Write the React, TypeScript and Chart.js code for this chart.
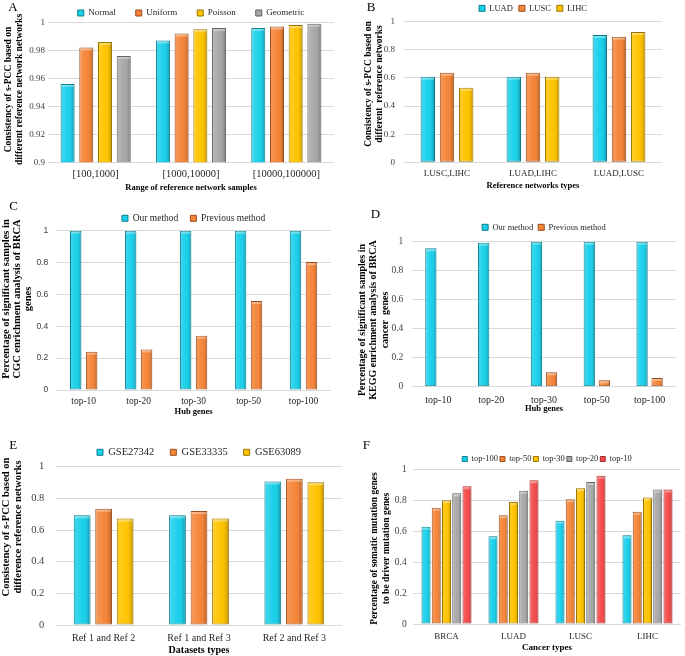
import React, { useEffect, useRef } from 'react';
import { Chart, registerables } from 'chart.js';

Chart.register(...registerables);

const SERIF = "'Liberation Serif', 'Times New Roman', serif";
const SANS = "'Liberation Sans', Arial, sans-serif";

// ---------- Panel A ----------
const aCategories = ['[100,1000]', '[1000,10000]', '[10000,100000]'];
const aNormal = [0.956, 0.987, 0.996];
const aUniform = [0.982, 0.992, 0.997];
const aPoisson = [0.986, 0.995, 0.998];
const aGeometric = [0.976, 0.996, 0.999];
const aAxis = { min: 0.9, max: 1, step: 0.02 };

// ---------- Panel B ----------
const bCategories = ['LUSC,LIHC', 'LUAD,LIHC', 'LUAD,LUSC'];
const bLUAD = [0.609, 0.609, 0.905];
const bLUSC = [0.637, 0.637, 0.893];
const bLIHC = [0.531, 0.609, 0.927];

// ---------- Panel C ----------
const cCategories = ['top-10', 'top-20', 'top-30', 'top-50', 'top-100'];
const cOur = [1, 1, 1, 1, 1];
const cPrevious = [0.24, 0.255, 0.341, 0.559, 0.803];

// ---------- Panel D ----------
const dCategories = ['top-10', 'top-20', 'top-30', 'top-50', 'top-100'];
const dOur = [0.954, 0.993, 1, 1, 1];
const dPrevious = [0, 0, 0.099, 0.044, 0.06];

// ---------- Panel E ----------
const eCategories = ['Ref 1 and Ref 2', 'Ref 1 and Ref 3', 'Ref 2 and Ref 3'];
const eGSE27342 = [0.693, 0.693, 0.907];
const eGSE33335 = [0.735, 0.72, 0.924];
const eGSE63089 = [0.672, 0.672, 0.901];

// ---------- Panel F ----------
const fCategories = ['BRCA', 'LUAD', 'LUSC', 'LIHC'];
const fTop100 = [0.629, 0.567, 0.668, 0.573];
const fTop50 = [0.752, 0.703, 0.806, 0.726];
const fTop30 = [0.8, 0.789, 0.877, 0.817];
const fTop20 = [0.845, 0.862, 0.918, 0.869];
const fTop10 = [0.89, 0.929, 0.959, 0.869];

const unitAxis = { min: 0, max: 1, step: 0.2 };

const STYLE = {
  cyan: { fill: '#1BD0EA', edge: '#0B7D8D' },
  orange: { fill: '#F58539', edge: '#9A4D1C' },
  gold: { fill: '#FFC400', edge: '#9A7400' },
  gray: { fill: '#A8A8A8', edge: '#5F5F5F' },
  red: { fill: '#F44C4C', edge: '#A12A2A' },
};

type Sty = { fill: string; edge: string };
type Spec = {
  letter: string;
  letterX: number;
  letterCY: number;
  box: { x: number; y: number; w: number; h: number };
  plot: { l: number; r: number; t: number; b: number };
  legend: { cy: number; pad: number; size: number; box: number };
  yTitle: { text: string[]; x1: number; cy: number; size: number; lh: number };
  yTicks: { size: number; pad: number; family: string };
  axis: { min: number; max: number; step: number };
  xLabels: { cy: number; size: number };
  xTitle: { text: string; cy: number; size: number };
  bars: { cat: number; bar: number };
  categories: string[];
  series: { label: string; data: number[]; style: Sty }[];
};

const specs: Spec[] = [
  {
    letter: 'A', letterX: 8.3, letterCY: 6.3,
    box: { x: 0, y: 0, w: 340, h: 196 },
    plot: { l: 48, r: 334, t: 22.3, b: 162.3 },
    legend: { cy: 13, pad: 20, size: 9, box: 6 },
    yTitle: { text: ['Consistency of s-PCC based on', 'different reference network networks'], x1: 8.3, cy: 89.5, size: 9.5, lh: 11.7 },
    yTicks: { size: 9, pad: 3, family: SERIF },
    axis: aAxis,
    xLabels: { cy: 174, size: 10.5 },
    xTitle: { text: 'Range of reference network samples', cy: 187.3, size: 8.5 },
    bars: { cat: 0.785, bar: 0.75 },
    categories: aCategories,
    series: [
      { label: 'Normal', data: aNormal, style: STYLE.cyan },
      { label: 'Uniform', data: aUniform, style: STYLE.orange },
      { label: 'Poisson', data: aPoisson, style: STYLE.gold },
      { label: 'Geometric', data: aGeometric, style: STYLE.gray },
    ],
  },
  {
    letter: 'B', letterX: 366.7, letterCY: 6.3,
    box: { x: 340, y: 0, w: 345, h: 196 },
    plot: { l: 404, r: 662, t: 21.7, b: 162.3 },
    legend: { cy: 8.3, pad: 6, size: 8.5, box: 6 },
    yTitle: { text: ['Consistency of s-PCC based on', 'different  reference networks'], x1: 368.3, cy: 84, size: 9.5, lh: 11 },
    yTicks: { size: 9, pad: 9, family: SERIF },
    axis: unitAxis,
    xLabels: { cy: 173.3, size: 9 },
    xTitle: { text: 'Reference networks types', cy: 186, size: 8.5 },
    bars: { cat: 0.67, bar: 0.75 },
    categories: bCategories,
    series: [
      { label: 'LUAD', data: bLUAD, style: STYLE.cyan },
      { label: 'LUSC', data: bLUSC, style: STYLE.orange },
      { label: 'LIHC', data: bLIHC, style: STYLE.gold },
    ],
  },
  {
    letter: 'C', letterX: 9.3, letterCY: 205.3,
    box: { x: 0, y: 196, w: 340, h: 224 },
    plot: { l: 56.2, r: 331, t: 230.7, b: 390 },
    legend: { cy: 218.3, pad: 12, size: 9.5, box: 6 },
    yTitle: { text: ['Percentage of significant samples in', 'CGC enrichment analysis of BRCA', 'genes'], x1: 6, cy: 299, size: 10.5, lh: 11.2 },
    yTicks: { size: 8.5, pad: 8, family: SANS },
    axis: unitAxis,
    xLabels: { cy: 401.7, size: 9.5 },
    xTitle: { text: 'Hub genes', cy: 411.7, size: 8.5 },
    bars: { cat: 0.58, bar: 0.72 },
    categories: cCategories,
    series: [
      { label: 'Our method', data: cOur, style: STYLE.cyan },
      { label: 'Previous method', data: cPrevious, style: STYLE.orange },
    ],
  },
  {
    letter: 'D', letterX: 370.7, letterCY: 213.7,
    box: { x: 340, y: 196, w: 345, h: 224 },
    plot: { l: 412, r: 676, t: 241.7, b: 386.7 },
    legend: { cy: 227.3, pad: 5, size: 8.5, box: 6 },
    yTitle: { text: ['Percentage of significant samples in', 'KEGG enrichment analysis of BRCA', 'cancer  genes'], x1: 362.7, cy: 320, size: 10, lh: 11.2 },
    yTicks: { size: 9.5, pad: 8.7, family: SERIF },
    axis: unitAxis,
    xLabels: { cy: 400, size: 10 },
    xTitle: { text: 'Hub genes', cy: 409, size: 8.5 },
    bars: { cat: 0.57, bar: 0.75 },
    categories: dCategories,
    series: [
      { label: 'Our method', data: dOur, style: STYLE.cyan },
      { label: 'Previous method', data: dPrevious, style: STYLE.orange },
    ],
  },
  {
    letter: 'E', letterX: 9.3, letterCY: 444.5,
    box: { x: 0, y: 416, w: 342, h: 240 },
    plot: { l: 56, r: 364, t: 466.7, b: 625 },
    legend: { cy: 452.3, pad: 16, size: 10.5, box: 6 },
    yTitle: { text: ['Consistency of s-PCC based on', 'difference reference networks'], x1: 6.7, cy: 527, size: 10.5, lh: 11.7 },
    yTicks: { size: 10.5, pad: 11.7, family: SERIF },
    axis: unitAxis,
    xLabels: { cy: 638.3, size: 10 },
    xTitle: { text: 'Datasets types', cy: 650, size: 10 },
    bars: { cat: 0.677, bar: 0.78 },
    categories: eCategories,
    series: [
      { label: 'GSE27342', data: eGSE27342, style: STYLE.cyan },
      { label: 'GSE33335', data: eGSE33335, style: STYLE.orange },
      { label: 'GSE63089', data: eGSE63089, style: STYLE.gold },
    ],
  },
  {
    letter: 'F', letterX: 362.7, letterCY: 444.5,
    box: { x: 345, y: 416, w: 340, h: 240 },
    plot: { l: 413, r: 681, t: 469.3, b: 624 },
    legend: { cy: 459, pad: 2, size: 8.5, box: 5 },
    yTitle: { text: ['Percentage of somatic mutation genes', 'to be driver mutation genes'], x1: 375, cy: 548.5, size: 9.5, lh: 11.7 },
    yTicks: { size: 9.5, pad: 6.3, family: SERIF },
    axis: unitAxis,
    xLabels: { cy: 636.7, size: 9 },
    xTitle: { text: 'Cancer types', cy: 647.7, size: 9 },
    bars: { cat: 0.765, bar: 0.88 },
    categories: fCategories,
    series: [
      { label: 'top-100', data: fTop100, style: STYLE.cyan },
      { label: 'top-50', data: fTop50, style: STYLE.orange },
      { label: 'top-30', data: fTop30, style: STYLE.gold },
      { label: 'top-20', data: fTop20, style: STYLE.gray },
      { label: 'top-10', data: fTop10, style: STYLE.red },
    ],
  },
];

function legendHeightPlugin(h: number) {
  return {
    id: 'legendHeight',
    beforeLayout(chart: any) {
      const lg = chart.legend;
      if (lg && !lg.__patched) {
        const orig = lg.fit;
        lg.fit = function () {
          orig.call(this);
          this.height = h;
        };
        lg.__patched = true;
      }
    },
  };
}

// Draws the multi-line, rotated y-axis title without squeezing it to the plot height.
function yTitlePlugin(s: Spec) {
  return {
    id: 'yTitleText',
    afterDraw(chart: any) {
      const ctx = chart.ctx;
      const t = s.yTitle;
      ctx.save();
      ctx.translate(t.x1 - s.box.x, t.cy - s.box.y);
      ctx.rotate(-Math.PI / 2);
      ctx.fillStyle = '#000';
      ctx.font = `bold ${t.size}px ${SERIF}`;
      ctx.textAlign = 'center';
      ctx.textBaseline = 'middle';
      t.text.forEach((line, i) => ctx.fillText(line, 0, i * t.lh));
      ctx.restore();
    },
  };
}

// Soft bevel shading over each bar, placed from the bar elements computed by Chart.js.
const bevelPlugin = {
  id: 'bevel',
  afterDatasetsDraw(chart: any) {
    const ctx = chart.ctx;
    const area = chart.chartArea;
    ctx.save();
    ctx.beginPath();
    ctx.rect(area.left, area.top, area.right - area.left, area.bottom - area.top);
    ctx.clip();
    chart.data.datasets.forEach((_d: any, di: number) => {
      const meta = chart.getDatasetMeta(di);
      meta.data.forEach((el: any) => {
        const { x, y, base, width } = el.getProps(['x', 'y', 'base', 'width'], true);
        const top = Math.max(Math.min(y, base), area.top);
        const bottom = Math.min(Math.max(y, base), area.bottom);
        const h = bottom - top;
        if (h < 2) return;
        const left = x - width / 2;
        const g = ctx.createLinearGradient(left, 0, left + width, 0);
        g.addColorStop(0, 'rgba(255,255,255,0.18)');
        g.addColorStop(0.55, 'rgba(255,255,255,0)');
        g.addColorStop(0.8, 'rgba(0,0,0,0.08)');
        g.addColorStop(1, 'rgba(0,0,0,0.28)');
        ctx.fillStyle = g;
        ctx.fillRect(left + 1, top + 1, width - 2, h - 2);
        ctx.fillStyle = 'rgba(255,255,255,0.35)';
        ctx.fillRect(left + 1, top + 1, width - 2, Math.min(2, h - 2));
      });
    });
    ctx.restore();
  },
};

function fmtTick(v: number | string) {
  return String(Number(Number(v).toFixed(4)));
}

function makeConfig(s: Spec): any {
  const { box, plot } = s;
  const itemH = Math.max(s.legend.size, s.legend.box);
  const padTop = s.legend.cy - box.y - s.legend.pad - itemH / 2;
  const legendH = plot.t - box.y - padTop;
  const padRight = box.x + box.w - plot.r;
  const yAxisW = plot.l - box.x;
  const xAxisH = box.y + box.h - plot.b;
  const xLabLH = s.xLabels.size * 1.2;
  const xTitLH = s.xTitle.size * 1.2;
  const xTickPad = s.xLabels.cy - plot.b - xLabLH / 2;
  const xTitlePadBottom = box.y + box.h - s.xTitle.cy - xTitLH / 2;

  return {
    type: 'bar',
    data: {
      labels: s.categories,
      datasets: s.series.map((d) => ({
        label: d.label,
        data: d.data,
        backgroundColor: d.style.fill,
        borderColor: d.style.edge,
        borderWidth: 1,
        borderSkipped: false,
        categoryPercentage: s.bars.cat,
        barPercentage: s.bars.bar,
      })),
    },
    options: {
      responsive: false,
      maintainAspectRatio: false,
      animation: false,
      layout: { padding: { top: padTop, right: padRight, bottom: 0, left: 0 } },
      plugins: {
        legend: {
          position: 'top',
          fullSize: false,
          labels: {
            boxWidth: s.legend.box,
            boxHeight: s.legend.box,
            padding: s.legend.pad,
            color: '#262626',
            font: { family: SERIF, size: s.legend.size },
          },
        },
        tooltip: { enabled: false },
      },
      scales: {
        x: {
          grid: { display: false, drawTicks: false },
          border: { display: false },
          ticks: {
            padding: xTickPad,
            color: '#262626',
            autoSkip: false,
            maxRotation: 0,
            font: { family: SERIF, size: s.xLabels.size, lineHeight: 1.2 },
          },
          title: {
            display: true,
            text: s.xTitle.text,
            color: '#000',
            font: { family: SERIF, size: s.xTitle.size, weight: 'bold', lineHeight: 1.2 },
            padding: { top: 0, bottom: xTitlePadBottom },
          },
          afterFit: (sc: any) => {
            sc.height = xAxisH;
          },
        },
        y: {
          min: s.axis.min,
          max: s.axis.max,
          grid: { color: '#D9D9D9', lineWidth: 1, drawTicks: false },
          border: { display: false },
          ticks: {
            stepSize: s.axis.step,
            padding: s.yTicks.pad,
            color: '#404040',
            font: { family: s.yTicks.family, size: s.yTicks.size },
            callback: fmtTick,
          },
          title: { display: false },
          afterFit: (sc: any) => {
            sc.width = yAxisW;
          },
        },
      },
    },
    plugins: [legendHeightPlugin(legendH), yTitlePlugin(s), bevelPlugin],
  };
}

function Panel({ spec }: { spec: Spec }) {
  const ref = useRef<HTMLCanvasElement>(null);
  useEffect(() => {
    if (!ref.current) return;
    const chart = new Chart(ref.current, makeConfig(spec));
    return () => chart.destroy();
  }, [spec]);
  const { box } = spec;
  return (
    <>
      <canvas
        ref={ref}
        width={box.w}
        height={box.h}
        style={{ position: 'absolute', left: box.x, top: box.y, width: box.w, height: box.h }}
      />
      <div
        style={{
          position: 'absolute',
          left: spec.letterX,
          top: spec.letterCY - 6.6,
          fontFamily: SERIF,
          fontSize: 13,
          lineHeight: '13px',
          color: '#000',
        }}
      >
        {spec.letter}
      </div>
    </>
  );
}

export default function App() {
  return (
    <div
      style={{
        position: 'absolute',
        left: 0,
        top: 0,
        width: 685,
        height: 656,
        overflow: 'hidden',
        background: '#fff',
      }}
    >
      {specs.map((s) => (
        <Panel key={s.letter} spec={s} />
      ))}
    </div>
  );
}
